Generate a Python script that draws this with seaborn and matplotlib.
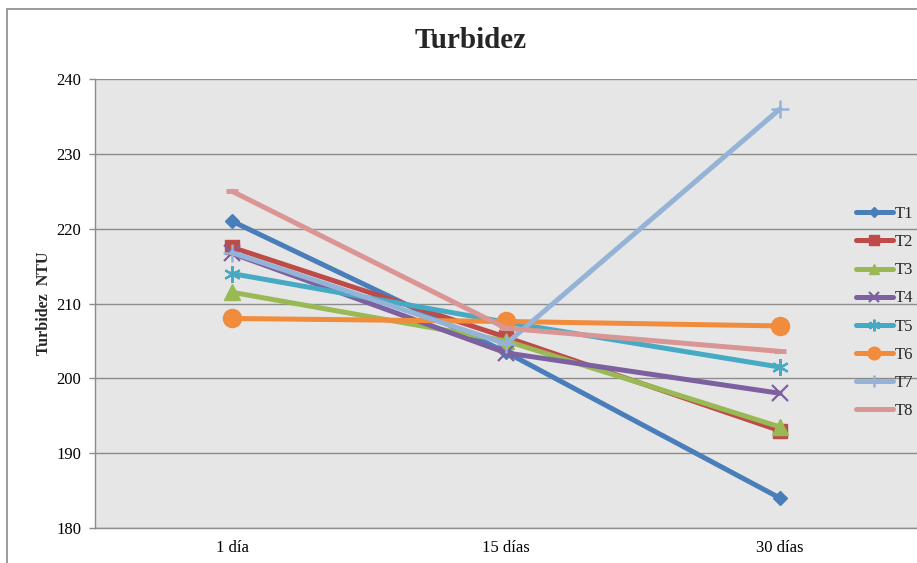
import matplotlib
matplotlib.use("Agg")
import matplotlib.pyplot as plt
import seaborn as sns
import pandas as pd
from matplotlib.patches import Rectangle

# Sampling times and turbidity readings (NTU) per treatment
dias = ["1 día", "15 días", "30 días"]
T1 = [221.0, 203.5, 184.0]
T2 = [217.5, 205.5, 193.0]
T3 = [211.5, 205.0, 193.5]
T4 = [216.7, 203.4, 198.0]
T5 = [214.0, 207.5, 201.5]
T6 = [208.0, 207.6, 207.0]
T7 = [216.8, 204.6, 236.0]
T8 = [225.0, 206.7, 203.6]

series = {"T1": T1, "T2": T2, "T3": T3, "T4": T4,
          "T5": T5, "T6": T6, "T7": T7, "T8": T8}

colors = {"T1": "#4A7EBB", "T2": "#BE4B48", "T3": "#98B954", "T4": "#7D60A0",
          "T5": "#46AAC5", "T6": "#F08C3C", "T7": "#95B3D7", "T8": "#D99694"}
markers = {"T1": ("D", 7.5, 1), "T2": ("s", 10, 1), "T3": ("^", 11, 1),
           "T4": ("x", 11, 1.6), "T5": ((6, 2, 0), 12, 1.6), "T6": ("o", 13, 1),
           "T7": ("+", 13, 1.8), "T8": ("_", 9, 3.5)}

sns.set_theme(style="white")
plt.rcParams["font.family"] = ["Liberation Serif", "DejaVu Serif"]

fig = plt.figure(figsize=(9.17, 5.63), dpi=100)
fig.patch.set_facecolor("white")

# Outer chart frame (partially clipped at right/bottom)
fig.patches.append(Rectangle((7 / 917, -0.05), 1.2, 1 - 9 / 563 + 0.05,
                             transform=fig.transFigure, fill=False,
                             edgecolor="#8a8a8a", linewidth=1.2))

ax = fig.add_axes([95 / 917, 1 - 528 / 563, 1 - 95 / 917, (528 - 79) / 563])
ax.set_facecolor("#E6E6E6")

for name, vals in series.items():
    df = pd.DataFrame({"dia": dias, "ntu": vals})
    m, ms, mew = markers[name]
    sns.lineplot(data=df, x="dia", y="ntu", ax=ax, sort=False, color=colors[name],
                 linewidth=3.6, marker=m, markersize=ms, markeredgewidth=mew,
                 markeredgecolor=colors[name], markerfacecolor=colors[name],
                 label=name, solid_capstyle="round")

ax.set_xlim(-0.5, 2.5)
ax.set_ylim(180, 240)
ax.set_yticks(range(180, 241, 10))
ax.yaxis.grid(True, color="#8c8c8c", linewidth=1.0)
ax.set_axisbelow(True)

for side in ["top", "right"]:
    ax.spines[side].set_visible(False)
for side in ["left", "bottom"]:
    ax.spines[side].set_color("#8c8c8c")
    ax.spines[side].set_linewidth(1.0)

ax.tick_params(axis="y", which="major", length=4, width=1, color="#8c8c8c",
               labelsize=12, pad=6, left=True)
ax.tick_params(axis="x", length=0, labelsize=12, pad=9)
for lab in ax.get_xticklabels() + ax.get_yticklabels():
    lab.set_color("black")

ax.set_xlabel("")
ax.set_ylabel("Turbidez  NTU", fontsize=11.5, fontweight="bold", labelpad=3)

fig.text(471 / 917, 1 - 41 / 563, "Turbidez", ha="center", va="center",
         fontsize=21, fontweight="bold")

leg = ax.legend(loc="upper left", bbox_to_anchor=(856 / 917, 1 - 206 / 563),
                bbox_transform=fig.transFigure, frameon=False, fontsize=12,
                handlelength=2.2, handletextpad=0.1, labelspacing=0.73,
                borderaxespad=0, borderpad=0)
for h in leg.legend_handles:
    h.set_markersize(h.get_markersize() * 0.7)

fig.savefig("out.png", dpi=100)
